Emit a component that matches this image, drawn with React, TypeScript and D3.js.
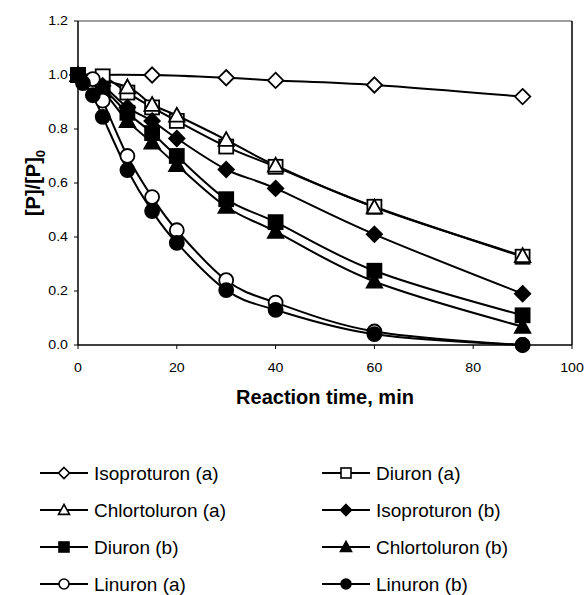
import React from "react";
import * as d3 from "d3";

const seriesNames = [
  "Isoproturon (a)",
  "Diuron (a)",
  "Chlortoluron (a)",
  "Isoproturon (b)",
  "Diuron (b)",
  "Chlortoluron (b)",
  "Linuron (a)",
  "Linuron (b)",
];
const seriesSymbols = ["diamond", "square", "triangle", "diamond", "square", "triangle", "circle", "circle"];
const seriesFilled = [false, false, false, true, true, true, false, true];

const isoA_t = [0, 15, 30, 40, 60, 90];
const isoA_v = [1.0, 1.0, 0.99, 0.98, 0.963, 0.92];
const diuA_t = [0, 5, 10, 15, 20, 30, 40, 60, 90];
const diuA_v = [1.0, 0.995, 0.935, 0.88, 0.83, 0.735, 0.66, 0.512, 0.327];
const chlA_t = [0, 10, 15, 20, 30, 40, 60, 90];
const chlA_v = [1.0, 0.955, 0.89, 0.85, 0.76, 0.665, 0.51, 0.33];
const isoB_t = [0, 5, 10, 15, 20, 30, 40, 60, 90];
const isoB_v = [1.0, 0.96, 0.88, 0.83, 0.765, 0.65, 0.58, 0.41, 0.19];
const diuB_t = [0, 5, 10, 15, 20, 30, 40, 60, 90];
const diuB_v = [1.0, 0.95, 0.86, 0.785, 0.7, 0.54, 0.455, 0.275, 0.11];
const chlB_t = [0, 5, 10, 15, 20, 30, 40, 60, 90];
const chlB_v = [1.0, 0.94, 0.83, 0.75, 0.667, 0.512, 0.42, 0.235, 0.068];
const linA_t = [0, 3, 5, 10, 15, 20, 30, 40, 60, 90];
const linA_v = [1.0, 0.985, 0.905, 0.70, 0.548, 0.425, 0.24, 0.157, 0.05, 0.0];
const linB_t = [0, 1, 3, 5, 10, 15, 20, 30, 40, 60, 90];
const linB_v = [1.0, 0.97, 0.925, 0.845, 0.648, 0.496, 0.378, 0.203, 0.13, 0.04, 0.0];

const seriesTimes = [isoA_t, diuA_t, chlA_t, isoB_t, diuB_t, chlB_t, linA_t, linB_t];
const seriesValues = [isoA_v, diuA_v, chlA_v, isoB_v, diuB_v, chlB_v, linA_v, linB_v];

const xTicks = [0, 20, 40, 60, 80, 100];
const yTicks = [0, 0.2, 0.4, 0.6, 0.8, 1.0, 1.2];

const FONT = "'Liberation Sans', Arial, sans-serif";

function Marker({ kind, cx, cy, size, filled, sw = 1.8 }: { kind: string; cx: number; cy: number; size: number; filled: boolean; sw?: number }) {
  const fill = filled ? "#000" : "#fff";
  const h = size / 2;
  if (kind === "circle") return <circle cx={cx} cy={cy} r={h} fill={fill} stroke="#000" strokeWidth={sw} />;
  if (kind === "square")
    return <rect x={cx - h} y={cy - h} width={size} height={size} fill={fill} stroke="#000" strokeWidth={sw} />;
  if (kind === "diamond") {
    const d = h * 1.1;
    return (
      <path d={`M${cx},${cy - d}L${cx + d},${cy}L${cx},${cy + d}L${cx - d},${cy}Z`} fill={fill} stroke="#000" strokeWidth={sw} />
    );
  }
  const t = h * 1.1;
  return (
    <path d={`M${cx},${cy - t}L${cx + t},${cy + t * 0.8}L${cx - t},${cy + t * 0.8}Z`} fill={fill} stroke="#000" strokeWidth={sw} strokeLinejoin="miter" />
  );
}

export default function App() {
  const W = 584, H = 595;
  const left = 78, right = 572, top = 21, bottom = 345;
  const x = d3.scaleLinear().domain([0, 100]).range([left, right]);
  const y = d3.scaleLinear().domain([0, 1.2]).range([bottom, top]);
  const line = d3
    .line<[number, number]>()
    .x((d) => x(d[0]))
    .y((d) => y(d[1]))
    .curve(d3.curveCatmullRom.alpha(0));

  const legendRows = [473, 510, 547, 584];
  const legendCols = [40, 322];

  return (
    <svg width={W} height={H} style={{ position: "absolute", left: 0, top: 0 }} fontFamily={FONT}>
      <rect x={0} y={0} width={W} height={H} fill="#fff" />
      {/* frame */}
      <line x1={left} x2={right} y1={top} y2={top} stroke="#808080" strokeWidth={1.5} />
      <line x1={right} x2={right} y1={top} y2={bottom} stroke="#000" strokeWidth={1.5} />
      <line x1={left} x2={left} y1={top} y2={bottom} stroke="#000" strokeWidth={1.5} />
      <line x1={left} x2={right} y1={bottom} y2={bottom} stroke="#000" strokeWidth={1.5} />
      {yTicks.map((t) => (
        <g key={"y" + t}>
          <line x1={left - 4} x2={left} y1={y(t)} y2={y(t)} stroke="#000" strokeWidth={1} />
          <text transform={`translate(${left - 10},${y(t) + 4.3}) scale(1.18,1)`} textAnchor="end" fontSize={12} fill="#000">
            {t.toFixed(1)}
          </text>
        </g>
      ))}
      {xTicks.map((t) => (
        <g key={"x" + t}>
          <line x1={x(t)} x2={x(t)} y1={bottom} y2={bottom + 4} stroke="#000" strokeWidth={1} />
          <text transform={`translate(${x(t)},${bottom + 27}) scale(1.18,1)`} textAnchor="middle" fontSize={12} fill="#000">
            {t}
          </text>
        </g>
      ))}
      <text x={(left + right) / 2} y={bottom + 59} textAnchor="middle" fontSize={20} fontWeight="bold">
        Reaction time, min
      </text>
      <text transform={`translate(40,${(top + bottom) / 2}) rotate(-90)`} textAnchor="middle" fontSize={20} fontWeight="bold">
        [P]/[P]
        <tspan fontSize={13} dy={5}>0</tspan>
      </text>
      {seriesNames.map((name, i) => {
        const pts = seriesTimes[i].map((t, j) => [t, seriesValues[i][j]] as [number, number]);
        return (
          <g key={name}>
            <path d={line(pts) || ""} fill="none" stroke="#000" strokeWidth={2} />
          </g>
        );
      })}
      {seriesNames.map((name, i) => (
        <g key={name + "m"}>
          {seriesTimes[i].map((t, j) => (
            <Marker key={j} kind={seriesSymbols[i]} cx={x(t)} cy={y(seriesValues[i][j])} size={14} filled={seriesFilled[i]} />
          ))}
        </g>
      ))}
      {seriesNames.map((name, i) => {
        const col = i % 2;
        const row = Math.floor(i / 2);
        const lx = legendCols[col];
        const ly = legendRows[row];
        return (
          <g key={name + "l"}>
            <line x1={lx} x2={lx + 48} y1={ly} y2={ly} stroke="#000" strokeWidth={2} />
            <Marker kind={seriesSymbols[i]} cx={lx + 24} cy={ly} size={10} filled={seriesFilled[i]} sw={1.6} />
            <text x={lx + 54} y={ly + 7} fontSize={19} fill="#000">
              {name}
            </text>
          </g>
        );
      })}
    </svg>
  );
}
